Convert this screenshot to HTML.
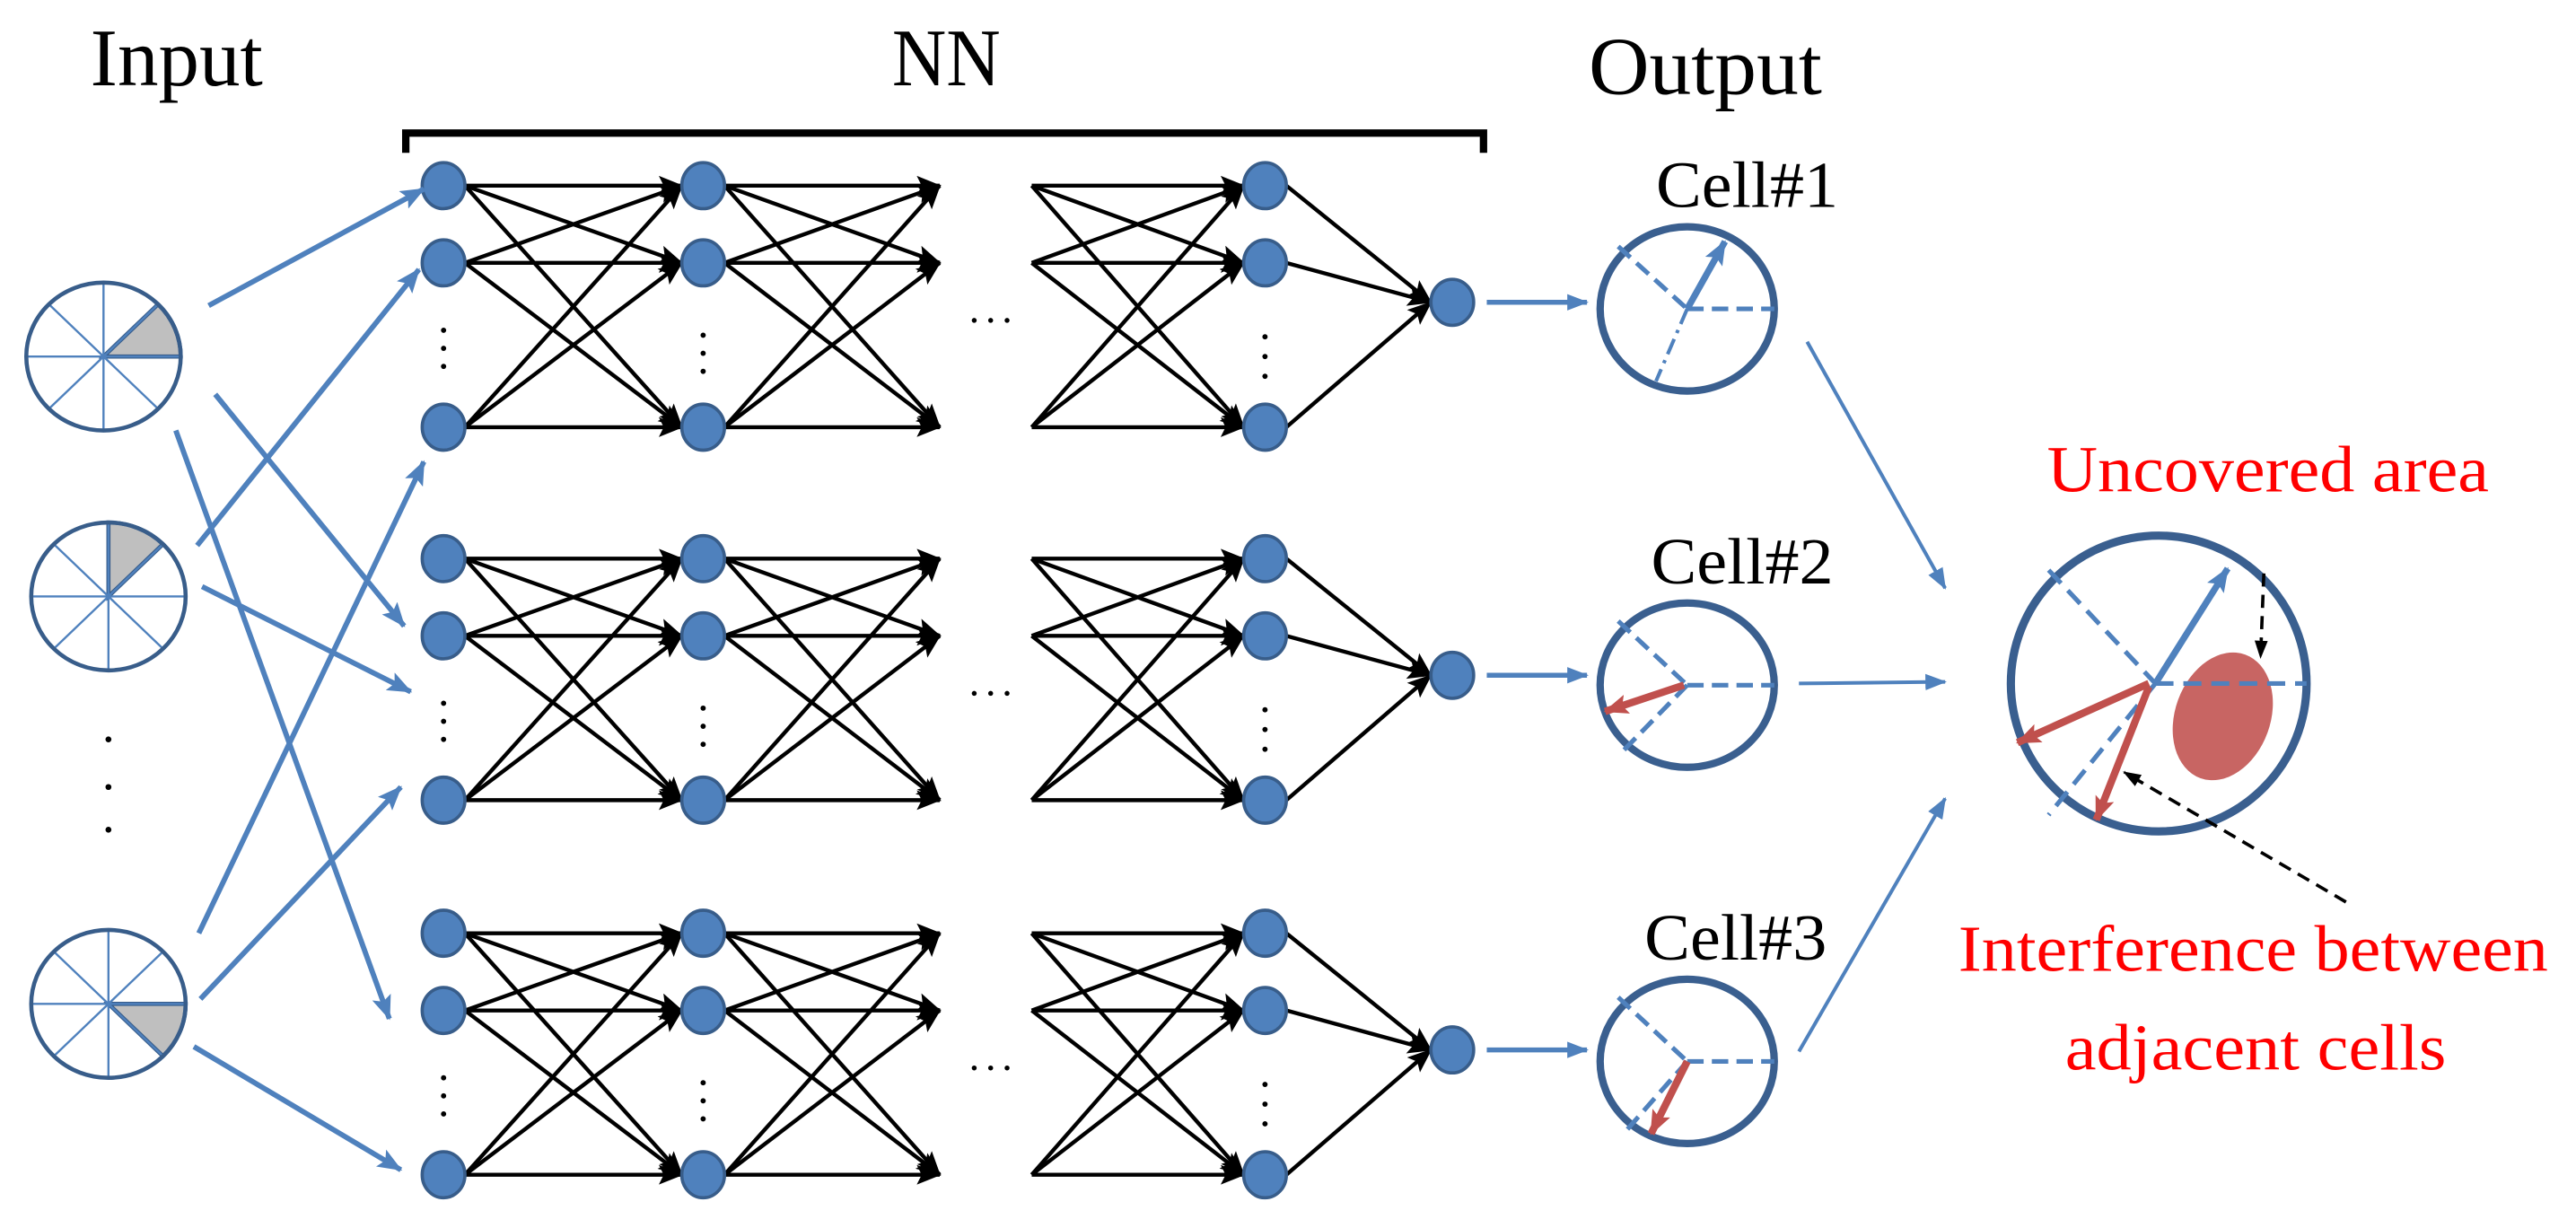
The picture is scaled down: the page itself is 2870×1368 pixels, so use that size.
<!DOCTYPE html>
<html><head><meta charset="utf-8"><style>html,body{margin:0;padding:0;background:#fff}svg{display:block}</style></head>
<body>
<svg width="2870" height="1368" viewBox="0 0 1568 747.4" xmlns="http://www.w3.org/2000/svg">
<defs>
<marker id="ak" markerUnits="userSpaceOnUse" markerWidth="16" markerHeight="14" refX="14" refY="6" orient="auto"><path d="M0,0 L15,6 L0,12 L3,6 Z" fill="#000"/></marker>
<marker id="ab" markerUnits="userSpaceOnUse" markerWidth="16" markerHeight="14" refX="14" refY="6" orient="auto"><path d="M0,0 L15,6 L0,12 L3,6 Z" fill="#4f81bd"/></marker>
<marker id="ab2" markerUnits="userSpaceOnUse" markerWidth="14" markerHeight="12" refX="12" refY="5" orient="auto"><path d="M0,0 L13,5 L0,10 Z" fill="#4f81bd"/></marker>
<marker id="ar" markerUnits="userSpaceOnUse" markerWidth="16" markerHeight="14" refX="14" refY="6" orient="auto"><path d="M0,0 L15,6 L0,12 L3,6 Z" fill="#c0504d"/></marker>
<marker id="akd" markerUnits="userSpaceOnUse" markerWidth="12" markerHeight="10" refX="10" refY="4" orient="auto"><path d="M0,0 L11,4 L0,8 Z" fill="#000"/></marker>
<g id="blk">
 <g stroke="#000" stroke-width="2.4" fill="none" marker-end="url(#ak)">
  <line x1="283" y1="113" x2="415" y2="113"/><line x1="283" y1="113" x2="415" y2="160"/><line x1="283" y1="113" x2="415" y2="260"/>
  <line x1="283" y1="160" x2="415" y2="113"/><line x1="283" y1="160" x2="415" y2="160"/><line x1="283" y1="160" x2="415" y2="260"/>
  <line x1="283" y1="260" x2="415" y2="113"/><line x1="283" y1="260" x2="415" y2="160"/><line x1="283" y1="260" x2="415" y2="260"/>
  <line x1="441" y1="113" x2="572" y2="113"/><line x1="441" y1="113" x2="572" y2="160"/><line x1="441" y1="113" x2="572" y2="260"/>
  <line x1="441" y1="160" x2="572" y2="113"/><line x1="441" y1="160" x2="572" y2="160"/><line x1="441" y1="160" x2="572" y2="260"/>
  <line x1="441" y1="260" x2="572" y2="113"/><line x1="441" y1="260" x2="572" y2="160"/><line x1="441" y1="260" x2="572" y2="260"/>
  <line x1="628" y1="113" x2="757" y2="113"/><line x1="628" y1="113" x2="757" y2="160"/><line x1="628" y1="113" x2="757" y2="260"/>
  <line x1="628" y1="160" x2="757" y2="113"/><line x1="628" y1="160" x2="757" y2="160"/><line x1="628" y1="160" x2="757" y2="260"/>
  <line x1="628" y1="260" x2="757" y2="113"/><line x1="628" y1="260" x2="757" y2="160"/><line x1="628" y1="260" x2="757" y2="260"/>
  <line x1="783" y1="113" x2="871" y2="184"/><line x1="783" y1="160" x2="871" y2="184"/><line x1="783" y1="260" x2="871" y2="184"/>
 </g>
 <g fill="#4f81bd" stroke="#385d8a" stroke-width="2">
  <ellipse cx="270" cy="113" rx="13" ry="14"/><ellipse cx="270" cy="160" rx="13" ry="14"/><ellipse cx="270" cy="260" rx="13" ry="14"/>
  <ellipse cx="428" cy="113" rx="13" ry="14"/><ellipse cx="428" cy="160" rx="13" ry="14"/><ellipse cx="428" cy="260" rx="13" ry="14"/>
  <ellipse cx="770" cy="113" rx="13" ry="14"/><ellipse cx="770" cy="160" rx="13" ry="14"/><ellipse cx="770" cy="260" rx="13" ry="14"/>
  <ellipse cx="884" cy="184" rx="13" ry="14"/>
 </g>
 <g fill="#000">
  <circle cx="270" cy="201" r="1.6"/><circle cx="270" cy="212" r="1.6"/><circle cx="270" cy="223" r="1.6"/>
  <circle cx="428" cy="204" r="1.6"/><circle cx="428" cy="215" r="1.6"/><circle cx="428" cy="226" r="1.6"/>
  <circle cx="770" cy="205" r="1.6"/><circle cx="770" cy="217" r="1.6"/><circle cx="770" cy="229" r="1.6"/>
  <circle cx="593" cy="195" r="1.5"/><circle cx="603" cy="195" r="1.5"/><circle cx="613" cy="195" r="1.5"/>
 </g>
 <line x1="905" y1="184" x2="966" y2="184" stroke="#4f81bd" stroke-width="3" marker-end="url(#ab2)"/>
</g>
</defs>

<g font-family="Liberation Serif, DejaVu Serif, serif" style="font-family:'Liberation Serif','DejaVu Serif',serif">
<text x="55" y="52" font-size="50" textLength="105" lengthAdjust="spacingAndGlyphs">Input</text>
<text x="543" y="52" font-size="50" textLength="66" lengthAdjust="spacingAndGlyphs">NN</text>
<text x="967" y="57" font-size="50" textLength="142" lengthAdjust="spacingAndGlyphs">Output</text>
<text x="1008" y="126" font-size="40" textLength="111" lengthAdjust="spacingAndGlyphs">Cell#1</text>
<text x="1005" y="355" font-size="40" textLength="111" lengthAdjust="spacingAndGlyphs">Cell#2</text>
<text x="1001" y="584" font-size="40" textLength="111" lengthAdjust="spacingAndGlyphs">Cell#3</text>
<text x="1246" y="299" font-size="40" fill="#ff0000" textLength="269" lengthAdjust="spacingAndGlyphs">Uncovered area</text>
<text x="1192" y="591" font-size="40" fill="#ff0000" textLength="359" lengthAdjust="spacingAndGlyphs">Interference between</text>
<text x="1257" y="651" font-size="40" fill="#ff0000" textLength="232" lengthAdjust="spacingAndGlyphs">adjacent cells</text>
</g>

<path d="M247,93 L247,81 L903,81 L903,93" fill="none" stroke="#000" stroke-width="4.5"/>

<use href="#blk"/>
<use href="#blk" y="227"/>
<use href="#blk" y="455"/>

<g stroke="#4f81bd" stroke-width="1.3" fill="none">
 <g transform="translate(63,217)">
  <path d="M0,0 L47,0 A47,45 0 0,0 33.2,-31.8 Z" fill="#bfbfbf" stroke="#385d8a" stroke-width="2.5"/>
  <line x1="-47" y1="0" x2="47" y2="0"/><line x1="0" y1="-45" x2="0" y2="45"/><line x1="-33.2" y1="-31.8" x2="33.2" y2="31.8"/><line x1="-33.2" y1="31.8" x2="33.2" y2="-31.8"/>
  <ellipse rx="47" ry="45" stroke="#385d8a" stroke-width="2.5"/>
 </g>
 <g transform="translate(66,363)">
  <path d="M0,0 L0,-45 A47,45 0 0,1 33.2,-31.8 Z" fill="#bfbfbf" stroke="#385d8a" stroke-width="2.5"/>
  <line x1="-47" y1="0" x2="47" y2="0"/><line x1="0" y1="-45" x2="0" y2="45"/><line x1="-33.2" y1="-31.8" x2="33.2" y2="31.8"/><line x1="-33.2" y1="31.8" x2="33.2" y2="-31.8"/>
  <ellipse rx="47" ry="45" stroke="#385d8a" stroke-width="2.5"/>
 </g>
 <g transform="translate(66,611)">
  <path d="M0,0 L47,0 A47,45 0 0,1 33.2,31.8 Z" fill="#bfbfbf" stroke="#385d8a" stroke-width="2.5"/>
  <line x1="-47" y1="0" x2="47" y2="0"/><line x1="0" y1="-45" x2="0" y2="45"/><line x1="-33.2" y1="-31.8" x2="33.2" y2="31.8"/><line x1="-33.2" y1="31.8" x2="33.2" y2="-31.8"/>
  <ellipse rx="47" ry="45" stroke="#385d8a" stroke-width="2.5"/>
 </g>
</g>
<g fill="#000"><circle cx="66" cy="450" r="1.8"/><circle cx="66" cy="479" r="1.8"/><circle cx="66" cy="505" r="1.8"/></g>

<g stroke="#4f81bd" stroke-width="3.2" marker-end="url(#ab)">
 <line x1="127" y1="186" x2="258" y2="115"/>
 <line x1="131" y1="240" x2="246" y2="381"/>
 <line x1="107" y1="262" x2="237" y2="620"/>
 <line x1="120" y1="332" x2="255" y2="164"/>
 <line x1="123" y1="357" x2="250" y2="421"/>
 <line x1="121" y1="568" x2="258" y2="281"/>
 <line x1="122" y1="608" x2="244" y2="479"/>
 <line x1="118" y1="637" x2="244" y2="712"/>
</g>

<g fill="none">
 <ellipse cx="1027" cy="188" rx="53" ry="50" stroke="#3a5f8f" stroke-width="4.5"/>
 <g stroke="#4f81bd" stroke-width="2.8" stroke-dasharray="10,5">
  <line x1="985" y1="150" x2="1027" y2="188"/><line x1="1027" y1="188" x2="1080" y2="188"/>
 </g>
 <line x1="1027" y1="188" x2="1008" y2="232" stroke="#4f81bd" stroke-width="2.2" stroke-dasharray="10,4,2,4"/>
 <line x1="1027" y1="188" x2="1050" y2="147" stroke="#4f81bd" stroke-width="4" marker-end="url(#ab)"/>

 <ellipse cx="1027" cy="417" rx="53" ry="50" stroke="#3a5f8f" stroke-width="4.5"/>
 <g stroke="#4f81bd" stroke-width="2.8" stroke-dasharray="10,5">
  <line x1="985" y1="378" x2="1027" y2="417"/><line x1="1027" y1="417" x2="1080" y2="417"/><line x1="1027" y1="417" x2="987" y2="458"/>
 </g>
 <line x1="1025" y1="417" x2="977" y2="433" stroke="#c0504d" stroke-width="4.5" marker-end="url(#ar)"/>

 <ellipse cx="1027" cy="646" rx="53" ry="50" stroke="#3a5f8f" stroke-width="4.5"/>
 <g stroke="#4f81bd" stroke-width="2.8" stroke-dasharray="10,5">
  <line x1="985" y1="607" x2="1027" y2="646"/><line x1="1027" y1="646" x2="1080" y2="646"/><line x1="1027" y1="646" x2="990" y2="688"/>
 </g>
 <line x1="1027" y1="646" x2="1005" y2="690" stroke="#c0504d" stroke-width="4.5" marker-end="url(#ar)"/>
</g>

<g stroke="#4f81bd" stroke-width="2.2" marker-end="url(#ab2)">
 <line x1="1100" y1="208" x2="1184" y2="358"/>
 <line x1="1095" y1="416" x2="1184" y2="415"/>
 <line x1="1095" y1="640" x2="1184" y2="486"/>
</g>

<ellipse cx="1353" cy="436" rx="29" ry="40" transform="rotate(20 1353 436)" fill="#c0504d" opacity="0.88"/>
<ellipse cx="1314" cy="416" rx="90" ry="90" fill="none" stroke="#3a5f8f" stroke-width="5"/>
<g stroke="#4f81bd" stroke-width="2.8" stroke-dasharray="11,6" fill="none">
 <line x1="1247" y1="347" x2="1312" y2="416"/><line x1="1312" y1="416" x2="1404" y2="416"/><line x1="1312" y1="416" x2="1247" y2="496"/>
</g>
<line x1="1312" y1="416" x2="1356" y2="346" stroke="#4f81bd" stroke-width="4" marker-end="url(#ab)"/>
<line x1="1308" y1="416" x2="1228" y2="452" stroke="#c0504d" stroke-width="4.5" marker-end="url(#ar)"/>
<line x1="1308" y1="418" x2="1276" y2="499" stroke="#c0504d" stroke-width="4.5" marker-end="url(#ar)"/>
<g stroke="#000" stroke-width="2" stroke-dasharray="8,5" marker-end="url(#akd)">
 <line x1="1378" y1="349" x2="1376" y2="400"/>
 <line x1="1428" y1="549" x2="1293" y2="470"/>
</g>
</svg>
</body></html>
